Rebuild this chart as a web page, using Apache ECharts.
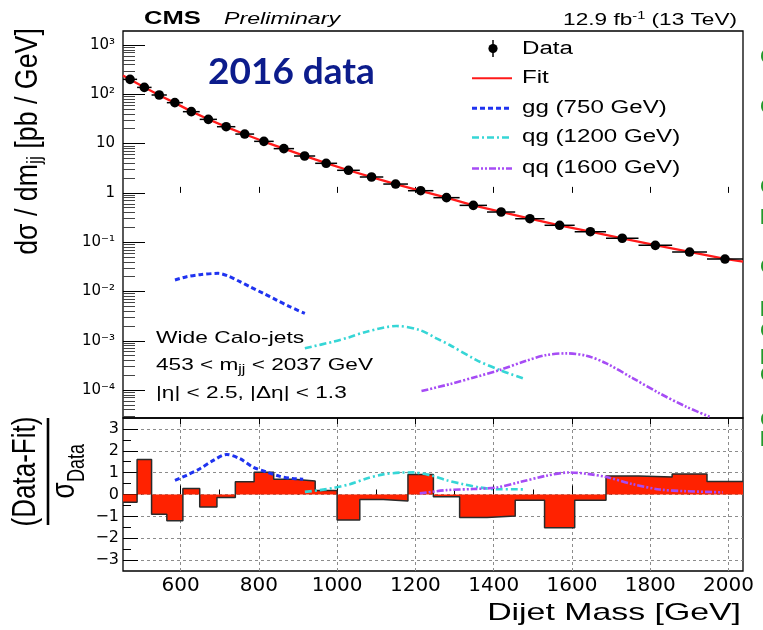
<!DOCTYPE html>
<html>
<head>
<meta charset="utf-8">
<script src="https://cdn.jsdelivr.net/npm/echarts@6.0.0/dist/echarts.min.js"></script>
<style>
  html, body { margin: 0; padding: 0; background: #fff; }
  #chart { width: 763px; height: 630px; }
</style>
</head>
<body>
<div id="chart"></div>
<script>
// Dijet mass binning [GeV]
const binEdges = [453, 489, 526, 565, 606, 649, 693, 740, 788, 838, 890, 944, 1000, 1058,
  1118, 1181, 1246, 1313, 1383, 1455, 1530, 1607, 1687, 1770, 1856, 1945, 2037];

// Measured dσ/dm per bin [pb/GeV]
const dataXsec = [201, 138, 96.8, 67.6, 44.4, 31.0, 22.0, 15.6, 11.1, 7.9, 5.6, 3.98, 2.87,
  2.10, 1.51, 1.107, 0.80, 0.558, 0.409, 0.299, 0.220, 0.163, 0.120, 0.0863, 0.063, 0.0455];

// (Data-Fit)/σ per bin
const pulls = [-0.35, 1.6, -0.9, -1.2, 0.28, -0.57, -0.14, 0.58, 1.02, 0.70, 0.62, 0.18, -1.17,
  -0.23, -0.30, 0.92, -0.10, -1.05, -0.98, -0.26, -1.52, -0.26, 0.85, 0.80, 0.94, 0.59];

// Background fit
const fitMass = [453, 471, 507.5, 545.5, 585.5, 627.5, 671, 716.5, 764, 813, 864, 917, 972, 1029,
  1088, 1149.5, 1213.5, 1279.5, 1348, 1419, 1492.5, 1568.5, 1647, 1728.5, 1813, 1900.5, 1991, 2037];
const fitXsec = [240, 200, 139, 96, 67, 45, 31.2, 21.8, 15.5, 11.0, 7.9, 5.65, 4.0, 2.88,
  2.08, 1.50, 1.10, 0.80, 0.56, 0.41, 0.30, 0.22, 0.163, 0.120, 0.087, 0.0635, 0.0458, 0.0401];

// Signal shapes
const ggMass = [585.8, 615.6, 649.6, 696.3, 721.8, 751.7, 777.2, 811.2, 845.4, 879.2, 917.6];
const ggXsec = [0.0171, 0.0199, 0.0219, 0.0233, 0.0206, 0.0158, 0.0125, 0.00917, 0.0067, 0.0049, 0.0036];
const qgMass = [917.6, 989.9, 1030, 1075.2, 1151.8, 1211.2, 1253.9, 1287.8, 1356, 1415.6, 1475];
const qgXsec = [7.03e-4, 9.57e-4, 1.17e-3, 1.53e-3, 1.99e-3, 1.65e-3, 1.12e-3, 8.2e-4, 4.06e-4, 2.55e-4, 1.73e-4];
const qqMass = [1215.6, 1288, 1356, 1415.6, 1483.6, 1534.7, 1585.8, 1636.8, 1687.9, 1756, 1824, 1892, 1951.6];
const qqXsec = [9.55e-5, 1.32e-4, 1.86e-4, 2.55e-4, 3.94e-4, 5.14e-4, 5.56e-4, 4.97e-4, 3.48e-4,
  1.73e-4, 8.57e-5, 4.59e-5, 2.88e-5];

// Signal shapes in units of σ_Data
const ggPullMass = [585.8, 615.6, 649.6, 683.5, 717.7, 751.7, 785.6, 819.9, 853.8, 887.8, 913.3];
const ggPull = [0.65, 0.88, 1.18, 1.56, 1.83, 1.64, 1.25, 1.03, 0.83, 0.73, 0.70];
const qgPullMass = [917.6, 955.9, 989.9, 1032.5, 1075.2, 1117.5, 1160.9, 1194.9, 1237.5, 1280.2,
  1322.6, 1365.1, 1407.8, 1450.2, 1480];
const qgPull = [0.12, 0.20, 0.30, 0.47, 0.73, 0.92, 1.0, 1.01, 0.88, 0.65, 0.47, 0.32, 0.24, 0.24, 0.23];
const qqPullMass = [1211.2, 1279.4, 1347.3, 1407, 1466.5, 1534.7, 1594.2, 1636.8, 1687.9, 1756, 1824, 1892, 1985.5];
const qqPull = [0.05, 0.20, 0.25, 0.32, 0.57, 0.86, 1.01, 0.95, 0.80, 0.47, 0.23, 0.15, 0.10];

// Axis ticks and labels
const massTicks = [600, 800, 1000, 1200, 1400, 1600, 1800, 2000];
const massMinorTicks = [500, 700, 900, 1100, 1300, 1500, 1700, 1900];
const decadeExp = [-4, -3, -2, -1, 0, 1, 2, 3];
const decadeLabels = ['10⁻⁴', '10⁻³', '10⁻²', '10⁻¹', '1', '10', '10²', '10³'];
const pullTicks = [-3, -2, -1, 0, 1, 2, 3];
const pullLabels = ['−3', '−2', '−1', '0', '1', '2', '3'];
const pullMinorTicks = [-2.5, -1.5, -0.5, 0.5, 1.5, 2.5];

const xMin = 453, xMax = 2037;
const logMin = -4.567, logMax = 3.284;   // log10 of the cross-section axis range
const pullMin = -3.5, pullMax = 3.5;

// log-axis sub-ticks at 2..9 × 10^n
const minorLog = [];
for (let n = -5; n <= 3; n++) {
  for (let k = 2; k <= 9; k++) {
    const v = n + Math.log10(k);
    if (v > logMin && v < logMax) minorLog.push(v);
  }
}

const LS = '"Liberation Sans", Arial, sans-serif';
const DV = '"DejaVu Sans", sans-serif';
const toLog = (xs, ys) => xs.map((m, i) => [m, Math.log10(ys[i])]);
const pairs = (xs, ys) => xs.map((m, i) => [m, ys[i]]);

const C_FIT = '#ff1a1a', C_GG = '#1f33f0', C_QG = '#36d6d6', C_QQ = '#a64cf5';
const DASH_GG = [5, 3], DASH_QG = [7, 3, 2, 3], DASH_QQ = [7, 2, 2, 2, 2, 2];

function txt(x, y, text, font, o) {
  o = o || {};
  const al = o.align || 'left', va = o.va || 'middle';
  const style = { text, font, fill: o.fill || '#000', align: al, textAlign: al,
    verticalAlign: va, textVerticalAlign: va };
  if (o.rich) style.rich = o.rich;
  return { type: 'text', x, y, scaleX: o.sx || 1, scaleY: o.sy || 1, rotation: o.rot || 0,
    z: 100, silent: true, style };
}
function seg(x1, y1, x2, y2, stroke, lw, dash) {
  return { type: 'line', z: 100, silent: true, shape: { x1, y1, x2, y2 },
    style: { stroke, lineWidth: lw, lineDash: dash || null } };
}

const chart = echarts.init(document.getElementById('chart'), null, { renderer: 'canvas' });

const hiddenLabel = { show: false };
const noLine = { show: false };
const noSplit = { show: false };

const option = {
  animation: false,
  backgroundColor: '#fff',
  grid: [
    { left: 123, top: 31, width: 620, height: 387, show: true, borderColor: '#000', borderWidth: 1.3,
      backgroundColor: 'transparent', containLabel: false, outerBoundsMode: 'none' },
    { left: 123, top: 418, width: 620, height: 153, show: true, borderColor: '#000', borderWidth: 1.3,
      backgroundColor: 'transparent', containLabel: false, outerBoundsMode: 'none' }
  ],
  xAxis: [
    { gridIndex: 0, type: 'value', min: xMin, max: xMax, position: 'bottom', axisLine: noLine,
      axisTick: { show: true, inside: true, length: 6, customValues: massTicks, lineStyle: { color: '#000', width: 1 } },
      axisLabel: hiddenLabel, splitLine: noSplit },
    { gridIndex: 1, type: 'value', min: xMin, max: xMax, position: 'bottom', axisLine: noLine,
      axisTick: { show: true, inside: true, length: 9, customValues: massTicks, lineStyle: { color: '#000', width: 1 } },
      axisLabel: { show: true, customValues: massTicks, formatter: v => String(v), fontFamily: DV,
        fontSize: 20, color: '#000', margin: 5 },
      splitLine: { show: true, lineStyle: { color: '#8c8c8c', width: 1, type: [3, 3] } } },
    { gridIndex: 1, type: 'value', min: xMin, max: xMax, position: 'bottom', axisLine: noLine,
      axisTick: { show: true, inside: true, length: 5, customValues: massMinorTicks, lineStyle: { color: '#000', width: 1 } },
      axisLabel: hiddenLabel, splitLine: noSplit },
    { gridIndex: 1, type: 'value', min: xMin, max: xMax, position: 'top', axisLine: noLine,
      axisTick: { show: true, inside: true, length: 6, customValues: massTicks, lineStyle: { color: '#000', width: 1 } },
      axisLabel: hiddenLabel, splitLine: noSplit }
  ],
  yAxis: [
    { gridIndex: 0, type: 'value', min: logMin, max: logMax, position: 'left', axisLine: noLine,
      axisTick: { show: true, inside: true, length: 22, customValues: decadeExp, lineStyle: { color: '#000', width: 1 } },
      axisLabel: { show: true, customValues: decadeExp,
        formatter: v => decadeLabels[decadeExp.indexOf(Math.round(v))],
        fontFamily: DV, fontSize: 15, color: '#000', margin: 8 },
      splitLine: noSplit },
    { gridIndex: 0, type: 'value', min: logMin, max: logMax, position: 'left', axisLine: noLine,
      axisTick: { show: true, inside: true, length: 12, customValues: minorLog, lineStyle: { color: '#444', width: 1 } },
      axisLabel: hiddenLabel, splitLine: noSplit },
    { gridIndex: 1, type: 'value', min: pullMin, max: pullMax, position: 'left', axisLine: noLine,
      axisTick: { show: true, inside: true, length: 15, customValues: pullTicks, lineStyle: { color: '#000', width: 1 } },
      axisLabel: { show: true, customValues: pullTicks,
        formatter: v => pullLabels[pullTicks.indexOf(Math.round(v))],
        fontFamily: DV, fontSize: 16, color: '#000', margin: 4 },
      splitLine: { show: true, lineStyle: { color: '#8c8c8c', width: 1, type: [3, 3] } } },
    { gridIndex: 1, type: 'value', min: pullMin, max: pullMax, position: 'left', axisLine: noLine,
      axisTick: { show: true, inside: true, length: 8, customValues: pullMinorTicks, lineStyle: { color: '#000', width: 1 } },
      axisLabel: hiddenLabel, splitLine: noSplit }
  ],
  series: [
    // background fit
    { type: 'line', xAxisIndex: 0, yAxisIndex: 0, data: toLog(fitMass, fitXsec), symbol: 'none',
      lineStyle: { color: C_FIT, width: 2.3 }, z: 3, silent: true },
    // signal shapes
    { type: 'line', xAxisIndex: 0, yAxisIndex: 0, data: toLog(ggMass, ggXsec), symbol: 'none', smooth: 0.3,
      lineStyle: { color: C_GG, width: 3, type: DASH_GG }, z: 4, silent: true },
    { type: 'line', xAxisIndex: 0, yAxisIndex: 0, data: toLog(qgMass, qgXsec), symbol: 'none', smooth: 0.3,
      lineStyle: { color: C_QG, width: 2.6, type: DASH_QG }, z: 4, silent: true },
    { type: 'line', xAxisIndex: 0, yAxisIndex: 0, data: toLog(qqMass, qqXsec), symbol: 'none', smooth: 0.3,
      lineStyle: { color: C_QQ, width: 2.6, type: DASH_QQ }, z: 4, silent: true },
    // data points with bin-width bars
    { type: 'custom', xAxisIndex: 0, yAxisIndex: 0, z: 6, silent: true,
      data: dataXsec.map((v, i) => [(binEdges[i] + binEdges[i + 1]) / 2, Math.log10(v), binEdges[i], binEdges[i + 1]]),
      renderItem: (params, api) => {
        const c = api.coord([api.value(0), api.value(1)]);
        const l = api.coord([api.value(2), api.value(1)]);
        const r = api.coord([api.value(3), api.value(1)]);
        return { type: 'group', children: [
          { type: 'line', shape: { x1: l[0], y1: l[1], x2: r[0], y2: r[1] }, style: { stroke: '#000', lineWidth: 1.5 } },
          { type: 'circle', shape: { cx: c[0], cy: c[1], r: 4.8 }, style: { fill: '#000' } }
        ] };
      } },
    // pull histogram
    { type: 'line', xAxisIndex: 1, yAxisIndex: 2, step: 'end', symbol: 'none', silent: true, z: 2,
      data: binEdges.map((e, i) => [e, pulls[Math.min(i, pulls.length - 1)]]),
      lineStyle: { color: '#2a2a2a', width: 1.5 },
      areaStyle: { color: '#ff2200', opacity: 1 } },
    { type: 'line', xAxisIndex: 1, yAxisIndex: 2, data: pairs(ggPullMass, ggPull), symbol: 'none', smooth: 0.3,
      lineStyle: { color: C_GG, width: 3, type: DASH_GG }, z: 4, silent: true },
    { type: 'line', xAxisIndex: 1, yAxisIndex: 2, data: pairs(qgPullMass, qgPull), symbol: 'none', smooth: 0.3,
      lineStyle: { color: C_QG, width: 2.6, type: DASH_QG }, z: 4, silent: true },
    { type: 'line', xAxisIndex: 1, yAxisIndex: 2, data: pairs(qqPullMass, qqPull), symbol: 'none', smooth: 0.3,
      lineStyle: { color: C_QQ, width: 2.6, type: DASH_QQ }, z: 4, silent: true }
  ],
  graphic: { elements: [
    // header
    txt(144, 19, 'CMS', 'bold 18px ' + LS, { sx: 1.42 }),
    txt(224, 20, 'Preliminary', 'italic 16px ' + LS, { sx: 1.45 }),
    txt(737, 20, '{m|12.9 fb}{p|-1}{m| (13 TeV)}', '17px ' + LS, { align: 'right', sx: 1.33,
      rich: { m: { fontSize: 17, fontFamily: LS, lineHeight: 20 },
              p: { fontSize: 11, fontFamily: LS, lineHeight: 11, verticalAlign: 'top' } } }),
    txt(208, 72, '2016 data', 'bold 37px Lato', { fill: '#0c1c8c' }),

    // legend
    { type: 'circle', z: 100, silent: true, shape: { cx: 493, cy: 48.5, r: 4.6 }, style: { fill: '#000' } },
    seg(493, 40, 493, 57, '#000', 1.5),
    seg(472, 78.3, 512, 78.3, C_FIT, 2),
    seg(472, 108.3, 512, 108.3, C_GG, 3, DASH_GG),
    seg(472, 137.5, 512, 137.5, C_QG, 2.6, DASH_QG),
    seg(472, 168.5, 512, 168.5, C_QQ, 2.6, DASH_QQ),
    txt(522, 49.5, 'Data', '18px ' + LS, { sx: 1.34 }),
    txt(522, 78.3, 'Fit', '18px ' + LS, { sx: 1.34 }),
    txt(522, 108.3, 'gg (750 GeV)', '18px ' + LS, { sx: 1.34 }),
    txt(522, 137.5, 'qg (1200 GeV)', '18px ' + LS, { sx: 1.34 }),
    txt(522, 168.5, 'qq (1600 GeV)', '18px ' + LS, { sx: 1.34 }),

    // selection
    txt(156, 338, 'Wide Calo-jets', '17px ' + LS, { sx: 1.34 }),
    txt(156, 365, '{m|453 < m}{s|jj}{m| < 2037 GeV}', '17px ' + LS, { sx: 1.33,
      rich: { m: { fontSize: 17, fontFamily: LS, lineHeight: 22 },
              s: { fontSize: 12, fontFamily: LS, lineHeight: 12, verticalAlign: 'bottom' } } }),
    txt(156, 393, '|η| < 2.5, |Δη| < 1.3', '17px ' + LS, { sx: 1.33 }),

    // axis titles
    txt(741, 613.5, 'Dijet Mass [GeV]', '24px ' + LS, { align: 'right', sx: 1.41 }),
    txt(28, 141.5, '{m|dσ / dm}{s|jj}{m| [pb / GeV]}', '26px ' + LS, { align: 'center', rot: Math.PI / 2,
      sx: 1.03, sy: 1.2,
      rich: { m: { fontSize: 26, fontFamily: LS, lineHeight: 30 },
              s: { fontSize: 17, fontFamily: LS, lineHeight: 15, verticalAlign: 'bottom' } } }),
    { type: 'group', x: 48, y: 471.5, rotation: Math.PI / 2, scaleY: 1.3, silent: true, children: [
      txt(0, -16.9, '(Data-Fit)', '26px ' + LS, { align: 'center' }),
      { type: 'line', silent: true, shape: { x1: -53.5, y1: 0, x2: 53.5, y2: 0 }, style: { stroke: '#000', lineWidth: 2 } },
      txt(-11, 12.5, 'σ', '26px ' + LS, { align: 'right' }),
      txt(-10.5, 22.7, 'Data', '18px ' + LS, { align: 'left' })
    ] },

    // neighbouring slide text, cut by the page edge
    txt(760, 57, 'C', '20px ' + LS, { fill: '#22992b' }),
    txt(760, 107, 'C', '20px ' + LS, { fill: '#22992b' }),
    txt(760, 187, 'C', '20px ' + LS, { fill: '#22992b' }),
    txt(760, 218, 'l', '20px ' + LS, { fill: '#22992b' }),
    txt(760, 267, 'C', '20px ' + LS, { fill: '#22992b' }),
    txt(760, 310, 'l', '20px ' + LS, { fill: '#22992b' }),
    txt(760, 331, 'C', '20px ' + LS, { fill: '#22992b' }),
    txt(760, 358, 'l', '20px ' + LS, { fill: '#22992b' }),
    txt(760, 375, 'C', '20px ' + LS, { fill: '#22992b' }),
    txt(760, 420, 'C', '20px ' + LS, { fill: '#22992b' }),
    txt(760, 440, 'l', '20px ' + LS, { fill: '#22992b' })
  ] }
};

chart.setOption(option);
</script>
</body>
</html>
